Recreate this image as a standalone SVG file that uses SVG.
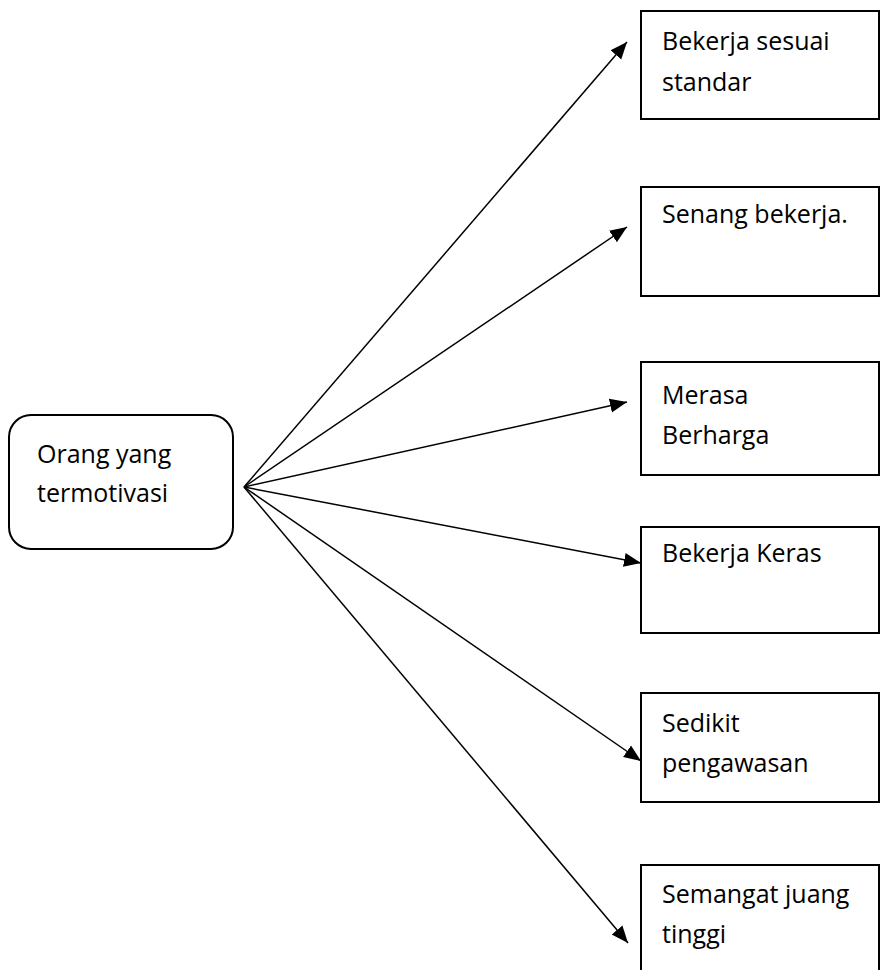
<svg xmlns="http://www.w3.org/2000/svg" width="882" height="970" viewBox="0 0 882 970">
<style>
.box{fill:#fff;stroke:#000;stroke-width:2}
.t{font-family:"Open Sans","Noto Sans","Liberation Sans",sans-serif;font-size:25px;fill:#000}
.c{stroke:#000;stroke-width:1.5;fill:none;marker-end:url(#ah)}
</style>
<defs>
<marker id="ah" markerUnits="userSpaceOnUse" markerWidth="19" markerHeight="16" refX="17" refY="8" orient="auto">
<path d="M0,1 L17,8 L0,15 Z" fill="#000"/>
</marker>
</defs>
<rect width="882" height="970" fill="#fff"/>
<g id="connectors">
<line class="c" x1="244" y1="487" x2="627" y2="42"/>
<line class="c" x1="244" y1="487" x2="627" y2="227"/>
<line class="c" x1="244" y1="487" x2="627" y2="402"/>
<line class="c" x1="244" y1="487" x2="641" y2="563"/>
<line class="c" x1="244" y1="487" x2="641" y2="761"/>
<line class="c" x1="244" y1="487" x2="628" y2="943"/>
</g>
<g id="source">
<rect class="box" x="9" y="415" width="224" height="134" rx="22"/>
<text class="t" x="37" y="463">Orang yang</text>
<text class="t" x="37" y="502">termotivasi</text>
</g>
<g id="n1">
<rect class="box" x="641" y="11" width="238" height="108"/>
<text class="t" x="662" y="50">Bekerja sesuai</text>
<text class="t" x="662" y="91">standar</text>
</g>
<g id="n2">
<rect class="box" x="641" y="187" width="238" height="109"/>
<text class="t" x="662" y="223">Senang bekerja.</text>
</g>
<g id="n3">
<rect class="box" x="641" y="362" width="238" height="113"/>
<text class="t" x="662" y="404">Merasa</text>
<text class="t" x="662" y="444">Berharga</text>
</g>
<g id="n4">
<rect class="box" x="641" y="527" width="238" height="106"/>
<text class="t" x="662" y="562">Bekerja Keras</text>
</g>
<g id="n5">
<rect class="box" x="641" y="693" width="238" height="109"/>
<text class="t" x="662" y="732">Sedikit</text>
<text class="t" x="662" y="772">pengawasan</text>
</g>
<g id="n6">
<rect class="box" x="641" y="865" width="238" height="120"/>
<text class="t" x="662" y="903">Semangat juang</text>
<text class="t" x="662" y="943">tinggi</text>
</g>
</svg>
